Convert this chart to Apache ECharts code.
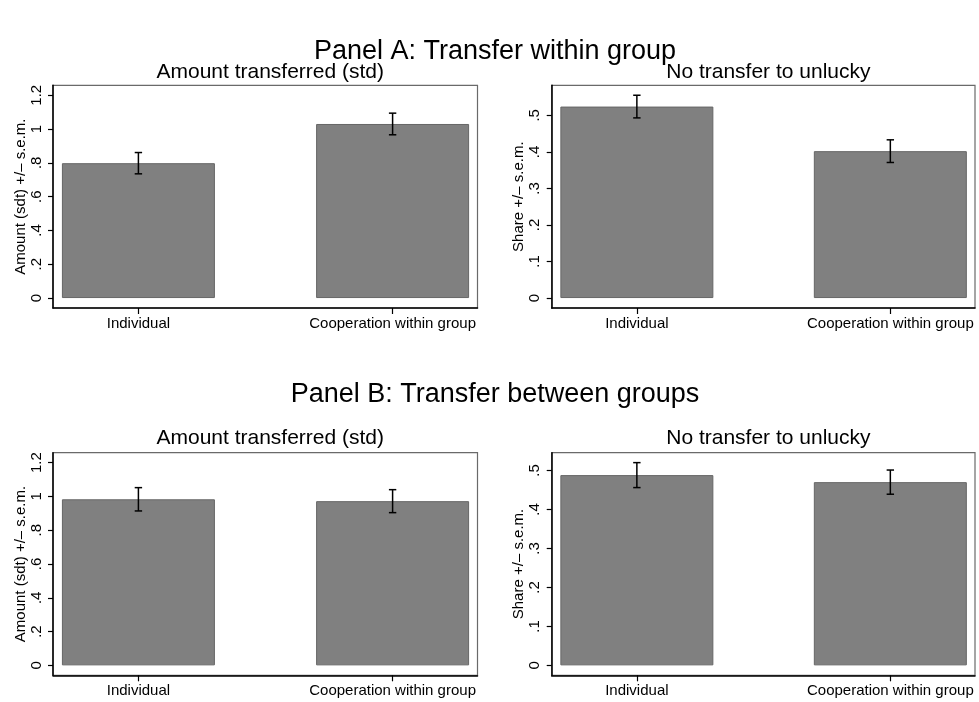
<!DOCTYPE html>
<html>
<head>
<meta charset="utf-8">
<title>Transfers: individual vs. cooperation</title>
<script src="https://cdn.jsdelivr.net/npm/echarts@6/dist/echarts.min.js"></script>
<style>
  html, body { margin: 0; padding: 0; background: #fff; }
  #chart { width: 979px; height: 702px; }
</style>
</head>
<body>
<div id="chart"></div>
<script>
// Treatment groups on the horizontal axis
const categories = ['Individual', 'Cooperation within group'];

// Panel A: transfer within group
const amountWithinMean = [0.798, 1.030];
const amountWithinSem = [0.063, 0.064];
const noTransferWithinMean = [0.524, 0.402];
const noTransferWithinSem = [0.031, 0.031];

// Panel B: transfer between groups
const amountBetweenMean = [0.983, 0.972];
const amountBetweenSem = [0.069, 0.068];
const noTransferBetweenMean = [0.488, 0.470];
const noTransferBetweenSem = [0.032, 0.031];

// Tick labels of the two kinds of vertical axis
const amountTicks = [0, 0.2, 0.4, 0.6, 0.8, 1, 1.2];
const shareTicks = [0, 0.1, 0.2, 0.3, 0.4, 0.5];

const panelTitles = ['Panel A: Transfer within group', 'Panel B: Transfer between groups'];
const subTitles = ['Amount transferred (std)', 'No transfer to unlucky'];
const yTitles = ['Amount (sdt) +/\u2013 s.e.m.', 'Share +/\u2013 s.e.m.'];

const FONT = '"Liberation Sans", Arial, Helvetica, sans-serif';

const panels = [
  { mean: amountWithinMean, sem: amountWithinSem, ticks: amountTicks, sub: subTitles[0], yName: yTitles[0] },
  { mean: noTransferWithinMean, sem: noTransferWithinSem, ticks: shareTicks, sub: subTitles[1], yName: yTitles[1] },
  { mean: amountBetweenMean, sem: amountBetweenSem, ticks: amountTicks, sub: subTitles[0], yName: yTitles[0] },
  { mean: noTransferBetweenMean, sem: noTransferBetweenSem, ticks: shareTicks, sub: subTitles[1], yName: yTitles[1] }
];

// Plot-region boxes (pixels)
const boxes = [
  { left: 53, right: 477.5, top: 85.3, bottom: 308 },
  { left: 551.7, right: 975, top: 85.3, bottom: 308 },
  { left: 53, right: 477.5, top: 452.7, bottom: 675.3 },
  { left: 551.7, right: 975, top: 452.7, bottom: 675.3 }
];

function tickText(v) {
  if (Math.abs(v) < 1e-9) return '0';
  return String(+v.toFixed(2)).replace(/^0\./, '.');
}

const grid = [], xAxis = [], yAxis = [], series = [], title = [];

title.push({
  text: panelTitles[0], left: 490, top: 33, textAlign: 'center',
  textStyle: { fontFamily: FONT, fontSize: 27, fontWeight: 'normal', color: '#000' }
});
title.push({
  text: panelTitles[1], left: 490, top: 376, textAlign: 'center',
  textStyle: { fontFamily: FONT, fontSize: 27, fontWeight: 'normal', color: '#000' }
});

panels.forEach((p, i) => {
  const b = boxes[i];
  grid.push({
    left: b.left, width: b.right - b.left, top: b.top, height: b.bottom - b.top,
    show: true, borderColor: '#6a6a6a', borderWidth: 1.2, backgroundColor: '#fff'
  });

  title.push({
    text: p.sub, left: (b.left + b.right) / 2, top: b.top - (i < 2 ? 29 : 30), textAlign: 'center',
    textStyle: { fontFamily: FONT, fontSize: 21, fontWeight: 'normal', color: '#000' }
  });

  // Vertical range: zero up to the larger of the top tick and the highest error bar, plus a margin
  const hiData = Math.max(...p.mean.map((m, k) => m + p.sem[k]));
  const hi = Math.max(p.ticks[p.ticks.length - 1], hiData);
  const pad = hi * 0.049;

  xAxis.push({
    type: 'value', gridIndex: i, min: -0.336, max: 1.334,
    axisLine: { show: true, onZero: false, lineStyle: { color: '#000', width: 1.5 } },
    axisTick: { show: true, length: 6, customValues: categories.map((c, k) => k), lineStyle: { color: '#000', width: 1.2 } },
    axisLabel: {
      customValues: categories.map((c, k) => k),
      formatter: v => categories[Math.round(v)],
      fontFamily: FONT, fontSize: 15, color: '#000', margin: 8
    },
    splitLine: { show: false }
  });

  yAxis.push({
    type: 'value', gridIndex: i, min: -pad, max: hi + pad,
    name: p.yName, nameLocation: 'middle', nameGap: 25,
    nameTextStyle: { fontFamily: FONT, fontSize: 15, color: '#000' },
    axisLine: { show: true, onZero: false, lineStyle: { color: '#000', width: 1.5 } },
    axisTick: { show: true, length: 5, customValues: p.ticks, lineStyle: { color: '#000', width: 1.2 } },
    axisLabel: {
      customValues: p.ticks, rotate: 90, formatter: tickText,
      fontFamily: FONT, fontSize: 15, color: '#000', margin: 9
    },
    splitLine: { show: false }
  });

  series.push({
    type: 'bar', xAxisIndex: i, yAxisIndex: i,
    barWidth: 153,
    data: p.mean.map((m, k) => [k, m]),
    itemStyle: { color: '#808080', borderColor: '#666', borderWidth: 1 },
    silent: true
  });

  // Error bars: mean +/- one standard error
  series.push({
    type: 'custom', xAxisIndex: i, yAxisIndex: i,
    data: p.mean.map((m, k) => [k, m - p.sem[k], m + p.sem[k]]),
    renderItem: (params, api) => {
      const top = api.coord([api.value(0), api.value(2)]);
      const bot = api.coord([api.value(0), api.value(1)]);
      const cap = 3.7;
      const style = { stroke: '#000', lineWidth: 1.5, fill: null };
      return {
        type: 'group',
        children: [
          { type: 'line', shape: { x1: top[0], y1: top[1], x2: bot[0], y2: bot[1] }, style },
          { type: 'line', shape: { x1: top[0] - cap, y1: top[1], x2: top[0] + cap, y2: top[1] }, style },
          { type: 'line', shape: { x1: bot[0] - cap, y1: bot[1], x2: bot[0] + cap, y2: bot[1] }, style }
        ]
      };
    },
    z: 5,
    silent: true
  });
});

const chart = echarts.init(document.getElementById('chart'), null, { renderer: 'canvas' });
chart.setOption({
  backgroundColor: '#fff',
  animation: false,
  title, grid, xAxis, yAxis, series
});
</script>
</body>
</html>
